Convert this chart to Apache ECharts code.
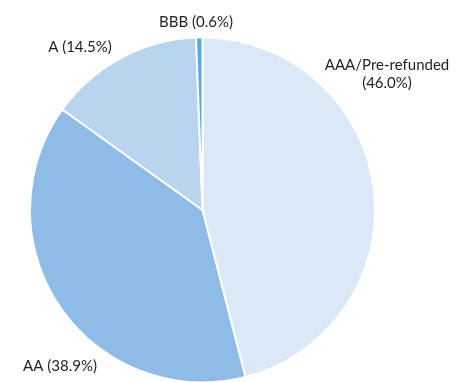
<!DOCTYPE html>
<html>
<head>
<meta charset="utf-8">
<script src="https://cdn.jsdelivr.net/npm/echarts@6/dist/echarts.min.js"></script>
<style>html,body{margin:0;padding:0;background:#fff;}#c{width:462px;height:382px;}</style>
</head>
<body>
<div id="c"></div>
<script>
var categories = ['AAA/Pre-refunded', 'AA', 'A', 'BBB'];
var values = [46.0, 38.9, 14.5, 0.6];
var colors = ['#dbe8f6', '#8fbce6', '#b9d4ef', '#5aa8e0'];
var labelTexts = ['AAA/Pre-refunded\n(46.0%)', 'AA (38.9%)', 'A (14.5%)', 'BBB (0.6%)'];
// label anchor positions (text only)
var labelPos = [[387, 74], [60, 366], [80, 47], [196, 22]];

var chart = echarts.init(document.getElementById('c'), null, {renderer: 'canvas'});
chart.setOption({
  animation: false,
  series: [{
    type: 'pie',
    center: [202.5, 210],
    radius: [0, 172.5],
    startAngle: 90,
    clockwise: true,
    avoidLabelOverlap: false,
    data: categories.map(function (c, i) {
      return {name: c, value: values[i], itemStyle: {color: colors[i]}};
    }),
    itemStyle: {borderColor: '#ffffff', borderWidth: 2},
    label: {
      show: true,
      position: 'inside',
      overflow: 'none',
      formatter: function (p) { return labelTexts[p.dataIndex]; },
      fontFamily: 'Lato',
      fontSize: 15,
      color: '#231f20',
      lineHeight: 18,
      align: 'center'
    },
    labelLine: {show: false},
    labelLayout: function (p) {
      var pos = labelPos[p.dataIndex];
      return {x: pos[0], y: pos[1], align: 'center', verticalAlign: 'middle'};
    },
    emphasis: {disabled: true}
  }]
});
</script>
</body>
</html>
